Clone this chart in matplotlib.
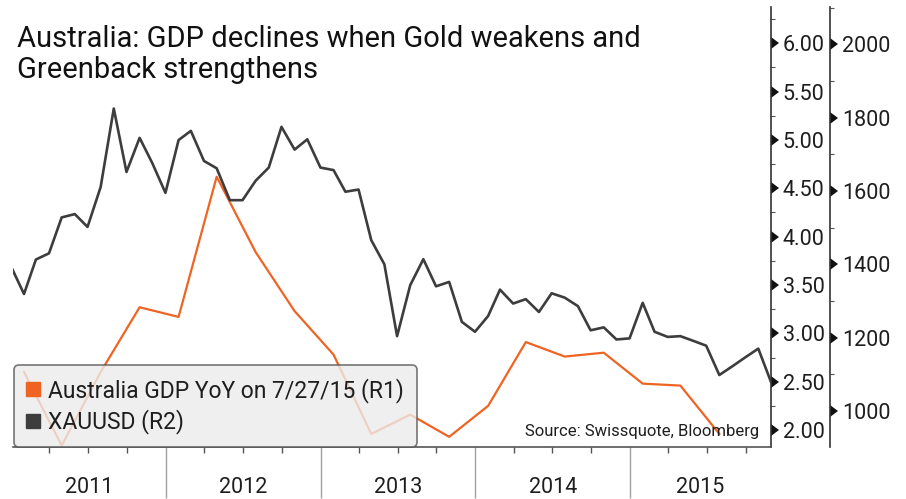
import matplotlib
matplotlib.use("Agg")
import matplotlib.pyplot as plt
import matplotlib.dates as mdates
import matplotlib.markers as mmarkers
from matplotlib.ticker import MultipleLocator, NullFormatter, FormatStrFormatter
from matplotlib.lines import Line2D
import pandas as pd

plt.rcParams["font.family"] = ["Roboto", "DejaVu Sans"]

# Month-end gold spot price (USD/oz), Dec 2010 - Nov 2015
gold_dates = pd.date_range("2010-12-31", "2015-11-30", freq="ME")
gold = [1395, 1319, 1413, 1430, 1528, 1537, 1502, 1611, 1825, 1652, 1745, 1676,
        1595, 1739, 1764, 1682, 1662, 1575, 1575, 1628, 1664, 1775, 1713, 1741,
        1664, 1657, 1598, 1604, 1466, 1400, 1204, 1343, 1414, 1340, 1352, 1243,
        1216, 1259, 1331, 1293, 1305, 1270, 1321, 1309, 1286, 1220, 1228, 1195,
        1198, 1295, 1216, 1202, 1204, 1191, 1178, 1098, 1122, 1146, 1170, 1079]

# Australian GDP, year-on-year % (quarterly)
gdp_dates = pd.date_range("2011-01-31", "2015-07-31", freq="3ME")
gdp = [2.60, 1.84, 2.60, 3.27, 3.17, 4.62, 3.84, 3.23, 2.78, 1.96,
       2.16, 1.93, 2.25, 2.91, 2.76, 2.80, 2.48, 2.46, 1.96]

years = [2011, 2012, 2013, 2014, 2015]
title_lines = ["Australia: GDP declines when Gold weakens and",
               "Greenback strengthens"]
legend_labels = ["Australia GDP YoY on 7/27/15 (R1)", "XAUUSD (R2)"]
source_text = "Source: Swissquote, Bloomberg"

ORANGE = "#ef6423"
GRAY = "#3d3d3d"
SPINE = "#333333"
TEXT = "#1e1e1e"

x_start = pd.Timestamp("2011-01-05")
x_end = pd.Timestamp("2015-11-30")

W, H = 906, 499
fig = plt.figure(figsize=(W / 100, H / 100), dpi=100)
fig.patch.set_facecolor("white")
ax = fig.add_axes([13 / W, 52.5 / H, 758 / W, 439.5 / H])
ax2 = ax.twinx()

ax.plot(gdp_dates, gdp, color=ORANGE, lw=1.6, solid_joinstyle="round")
ax2.plot(gold_dates, gold, color=GRAY, lw=1.9, solid_joinstyle="round")

ax.set_xlim(x_start, x_end)
ax.set_ylim(1.83, 6.375)
ax2.set_ylim(903, 2102)

# spines
for s in ("top", "left"):
    ax.spines[s].set_visible(False)
for s in ("top", "left", "bottom"):
    ax2.spines[s].set_visible(False)
ax.spines["right"].set_color(SPINE)
ax.spines["right"].set_linewidth(1.2)
ax.spines["bottom"].set_color("#555555")
ax.spines["bottom"].set_linewidth(1.2)
ax2.spines["right"].set_color(SPINE)
ax2.spines["right"].set_linewidth(1.2)
ax2.spines["right"].set_position(("outward", 42.5))

# y axes (both on the right)
ax.yaxis.tick_right()
ax.yaxis.set_major_locator(MultipleLocator(0.5))
ax.yaxis.set_minor_locator(MultipleLocator(0.25))
ax.yaxis.set_major_formatter(FormatStrFormatter("%.2f"))
ax2.yaxis.set_major_locator(MultipleLocator(200))
ax2.yaxis.set_minor_locator(MultipleLocator(100))
ax2.yaxis.set_major_formatter(FormatStrFormatter("%d"))

for a in (ax, ax2):
    a.tick_params(axis="y", which="major", left=False, right=True, length=4.5,
                  pad=4, labelsize=15.5, labelcolor=TEXT, color="#111111")
    a.tick_params(axis="y", which="minor", left=False, right=True, length=3,
                  width=0.8, color="#555555")

# x axis: year separators and quarterly ticks
ax.xaxis.set_major_locator(mdates.YearLocator())
ax.xaxis.set_minor_locator(mdates.MonthLocator(bymonth=[4, 7, 10]))
ax.xaxis.set_major_formatter(NullFormatter())
ax.xaxis.set_minor_formatter(NullFormatter())
ax.tick_params(axis="x", which="major", length=37, width=1, color="#a0a0a0")
ax.tick_params(axis="x", which="minor", length=4, width=1, color="#555555")

for yr in years:
    lo = max(pd.Timestamp(f"{yr}-01-01"), x_start)
    hi = min(pd.Timestamp(f"{yr + 1}-01-01"), x_end)
    mid = lo + (hi - lo) / 2
    ax.text(mid, -0.094, str(yr), transform=ax.get_xaxis_transform(),
            ha="center", va="center", fontsize=15.5, color=TEXT)

# title
fig.text(17 / W, 1 - 46.7 / H, title_lines[0], fontsize=21, va="baseline", color="#111111")
fig.text(17 / W, 1 - 78.3 / H, title_lines[1], fontsize=21, va="baseline", color="#111111")

# legend
handles = [Line2D([], [], marker="s", ls="none", color=ORANGE, markersize=9.5),
           Line2D([], [], marker="s", ls="none", color=GRAY, markersize=9.5)]
leg = ax2.legend(handles, legend_labels, loc="upper left",
                 bbox_to_anchor=(14 / W, 1 - 365 / H), bbox_transform=fig.transFigure,
                 borderaxespad=0, fontsize=16.5, frameon=True, fancybox=True,
                 framealpha=0.8, facecolor="#ececec", edgecolor="#555555",
                 borderpad=0.55, handlelength=0.6, handletextpad=0.35,
                 labelspacing=0.3)
leg.get_frame().set_linewidth(1.2)
for t in leg.get_texts():
    t.set_color(TEXT)

ax2.text(0.984, 0.033, source_text, transform=ax2.transAxes, ha="right",
         va="center", fontsize=12, color=TEXT)

# arrowhead-style major ticks on the value axes
for a in (ax, ax2):
    for tk in a.yaxis.get_major_ticks():
        tk.tick2line.set_marker(mmarkers.CARETRIGHTBASE)
        tk.tick2line.set_markersize(8)
        tk.tick2line.set_markerfacecolor("#111111")
        tk.tick2line.set_markeredgewidth(0)

fig.savefig("out.png", dpi=100, facecolor="white")
